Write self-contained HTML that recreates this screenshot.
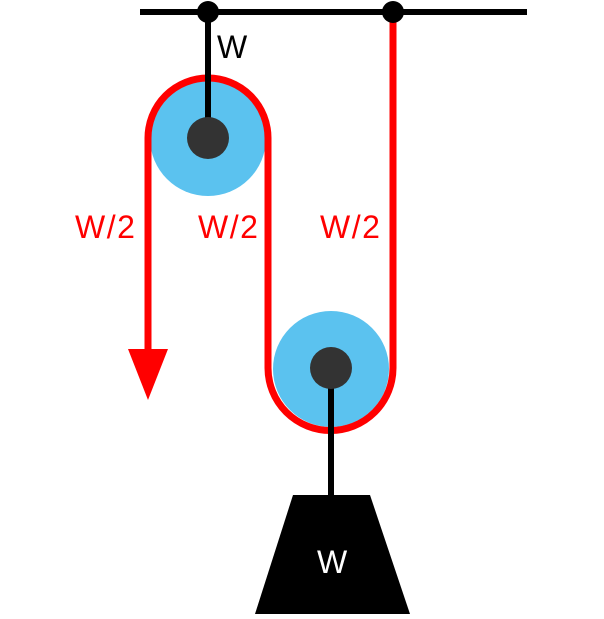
<!DOCTYPE html>
<html><head><meta charset="utf-8"><style>html,body{margin:0;padding:0;background:#fff}</style></head>
<body>
<svg width="604" height="614" viewBox="0 0 604 614" xmlns="http://www.w3.org/2000/svg">
<line x1="140" y1="12" x2="527" y2="12" stroke="#000" stroke-width="6"/>
<circle cx="208" cy="138" r="58" fill="#5BC2EF"/>
<circle cx="331" cy="369" r="58" fill="#5BC2EF"/>
<path d="M148 350 L148 138 A60 60 0 0 1 268 138 L268 368 A62.5 62.5 0 0 0 393 368 L393 12" fill="none" stroke="#FF0000" stroke-width="7"/>
<polygon points="128,349 168,349 148,400" fill="#FF0000"/>
<line x1="208" y1="12" x2="208" y2="138" stroke="#000" stroke-width="6"/>
<line x1="331" y1="368" x2="331" y2="497" stroke="#000" stroke-width="6"/>
<circle cx="208" cy="138" r="21" fill="#333"/>
<circle cx="331" cy="368" r="21" fill="#333"/>
<circle cx="208" cy="12" r="11" fill="#000"/>
<circle cx="393" cy="12" r="11" fill="#000"/>
<polygon points="293,495 370,495 410,614 255,614" fill="#000"/>
<g font-family="Liberation Sans, sans-serif" font-size="32" letter-spacing="1.5">
<text x="217" y="58" fill="#000">W</text>
<text x="75" y="238" fill="#FF0000">W/2</text>
<text x="198" y="238" fill="#FF0000">W/2</text>
<text x="320" y="238" fill="#FF0000">W/2</text>
<text x="317" y="573" fill="#fff">W</text>
</g>
</svg>
</body></html>
